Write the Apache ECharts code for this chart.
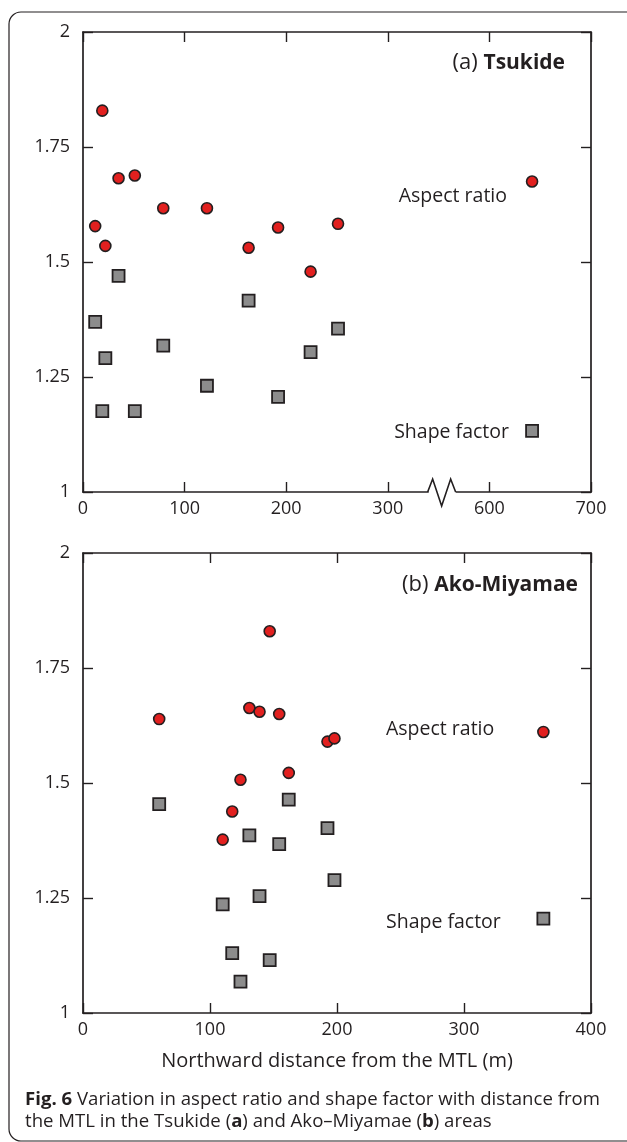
<!DOCTYPE html>
<html>
<head>
<meta charset="utf-8">
<script src="https://cdn.jsdelivr.net/npm/echarts@6/dist/echarts.min.js"></script>
<style>
  html, body { margin: 0; padding: 0; background: #fff; }
  #main { width: 627px; height: 1142px; }
</style>
</head>
<body>
<div id="main"></div>
<script>
// (a) Tsukide - distance (m), aspect ratio, shape factor
var tsukideDist = [12, 19, 22, 35, 51, 79, 122, 163, 192, 224, 251, 642];
var tsukideAspect = [1.578, 1.829, 1.535, 1.682, 1.688, 1.617, 1.617, 1.531, 1.575, 1.479, 1.583, 1.675];
var tsukideShape = [1.370, 1.176, 1.291, 1.470, 1.176, 1.318, 1.231, 1.416, 1.207, 1.304, 1.355, 1.133];

// (b) Ako-Miyamae
var akoDist = [60, 110, 117.5, 124, 131, 139, 147, 154.5, 162, 192.5, 198, 362.5];
var akoAspect = [1.639, 1.377, 1.438, 1.507, 1.663, 1.655, 1.830, 1.650, 1.522, 1.590, 1.597, 1.611];
var akoShape = [1.454, 1.236, 1.130, 1.068, 1.386, 1.254, 1.115, 1.367, 1.464, 1.402, 1.289, 1.205];

// broken axis in (a): 300 -> 600 collapsed to one tick interval
var breakStart = 300, breakEnd = 600, breakGap = 100;
var yTicks = [1, 1.25, 1.5, 1.75, 2];

var ink = '#231f20';
var font = '"Open Sans", "Noto Sans", sans-serif';

function toBroken(x) {
    return x <= breakStart ? x : x - (breakEnd - breakStart - breakGap);
}
function fromBroken(v) {
    return v <= breakStart ? v : v + (breakEnd - breakStart - breakGap);
}
function pairs(xs, ys, fn) {
    var out = [];
    for (var i = 0; i < xs.length; i++) {
        out.push([fn ? fn(xs[i]) : xs[i], ys[i]]);
    }
    return out;
}

var lineStyle = { color: ink, width: 1.7 };
var tickStyle = { show: true, inside: true, length: 10, lineStyle: { color: ink, width: 1.4 } };

function xAxisOf(grid, pos, max, labels, fmt) {
    return {
        type: 'value', gridIndex: grid, position: pos,
        min: 0, max: max, interval: 100,
        axisLine: { show: true, onZero: false, lineStyle: lineStyle },
        axisTick: tickStyle,
        splitLine: { show: false },
        axisLabel: labels ? {
            show: true, margin: 8, color: ink, fontSize: 18, fontFamily: font,
            formatter: fmt
        } : { show: false }
    };
}
function yAxisOf(grid, pos, labels) {
    return {
        type: 'value', gridIndex: grid, position: pos,
        min: yTicks[0], max: yTicks[yTicks.length - 1], interval: 0.25,
        axisLine: { show: true, onZero: false, lineStyle: lineStyle },
        axisTick: tickStyle,
        splitLine: { show: false },
        axisLabel: labels ? { show: true, margin: 13, color: ink, fontSize: 18, fontFamily: font } : { show: false }
    };
}

var circle = { symbol: 'circle', symbolSize: 11, itemStyle: { color: '#e2201f', borderColor: ink, borderWidth: 1.6, opacity: 1 } };
var square = { symbol: 'rect', symbolSize: 12, itemStyle: { color: '#8c8c8c', borderColor: ink, borderWidth: 1.8, opacity: 1 } };

function scatter(name, xi, data, look) {
    return {
        name: name, type: 'scatter', xAxisIndex: xi, yAxisIndex: xi,
        data: data, symbol: look.symbol, symbolSize: look.symbolSize,
        itemStyle: look.itemStyle, silent: true, z: 3
    };
}

var xFmtA = function (v) { return String(fromBroken(v)); };
var nameStyle = { color: ink, fontSize: 20, fontFamily: font };

var xb = xAxisOf(1, 'bottom', 400, true);
xb.name = 'Northward distance from the MTL (m)';
xb.nameLocation = 'middle';
xb.nameGap = 38;
xb.nameTextStyle = nameStyle;

function label(x, y, txt, align) {
    return {
        type: 'text', x: x, y: y, z: 10, silent: true,
        style: { text: txt, fill: ink, font: '19.5px ' + font, align: align || 'left', verticalAlign: 'middle' }
    };
}
function title(x, y, tag, name) {
    return {
        type: 'text', x: x, y: y, z: 10, silent: true,
        style: {
            text: '{r|' + tag + ' }{b|' + name + '}', align: 'right', verticalAlign: 'middle',
            rich: {
                r: { fill: ink, fontSize: 22, fontFamily: font },
                b: { fill: ink, fontSize: 21, fontFamily: font, fontWeight: 'bold' }
            }
        }
    };
}
function caption(y, txt) {
    return {
        type: 'text', x: 25, y: y, z: 10, silent: true,
        style: {
            text: txt, fill: ink, fontSize: 18.6, fontFamily: font, verticalAlign: 'middle',
            rich: { b: { fill: ink, fontSize: 18.6, fontFamily: font, fontWeight: 'bold' } }
        }
    };
}

var chart = echarts.init(document.getElementById('main'), null, { renderer: 'canvas' });
var option = {
    backgroundColor: '#fff',
    animation: false,
    grid: [
        { left: 83, top: 32, width: 508, height: 460 },
        { left: 83, top: 553, width: 508, height: 460 }
    ],
    xAxis: [
        xAxisOf(0, 'bottom', toBroken(700), true, xFmtA),
        xAxisOf(0, 'top', toBroken(700), false),
        xb,
        xAxisOf(1, 'top', 400, false)
    ],
    yAxis: [
        yAxisOf(0, 'left', true),
        yAxisOf(0, 'right', false),
        yAxisOf(1, 'left', true),
        yAxisOf(1, 'right', false)
    ],
    series: [
        scatter('Aspect ratio (a)', 0, pairs(tsukideDist, tsukideAspect, toBroken), circle),
        scatter('Shape factor (a)', 0, pairs(tsukideDist, tsukideShape, toBroken), square),
        scatter('Aspect ratio (b)', 2, pairs(akoDist, akoAspect), circle),
        scatter('Shape factor (b)', 2, pairs(akoDist, akoShape), square)
    ]
};
chart.setOption(option);

// the zigzag break on the bottom axis of (a)
var bp = chart.convertToPixel({ xAxisIndex: 0, yAxisIndex: 0 }, [(breakStart + breakStart + breakGap) / 2 + 3, 1]);
var bx = bp[0], by = bp[1];

chart.setOption({
    graphic: [
        {
            type: 'rect', silent: true, z: 0,
            shape: { x: 9, y: 12, width: 660, height: 1129, r: 12 },
            style: { fill: 'none', stroke: ink, lineWidth: 1.2 }
        },
        {
            type: 'rect', silent: true, z: 20,
            shape: { x: bx - 13, y: by - 2, width: 27, height: 4 },
            style: { fill: '#fff' }
        },
        {
            type: 'polyline', silent: true, z: 21,
            shape: { points: [[bx - 14, by], [bx - 9, by - 13], [bx, by + 14], [bx + 9, by - 13], [bx + 14, by]] },
            style: { stroke: ink, lineWidth: 1.6, fill: 'none' }
        },
        title(565, 63, '(a)', 'Tsukide'),
        title(578, 585, '(b)', 'Ako-Miyamae'),
        label(507, 196, 'Aspect ratio', 'right'),
        label(509, 432, 'Shape factor', 'right'),
        label(386, 729, 'Aspect ratio'),
        label(386, 922, 'Shape factor'),
        caption(1100, '{b|Fig. 6} Variation in aspect ratio and shape factor with distance from'),
        caption(1122, 'the MTL in the Tsukide ({b|a}) and Ako\u2013Miyamae ({b|b}) areas')
    ]
});
</script>
</body>
</html>
